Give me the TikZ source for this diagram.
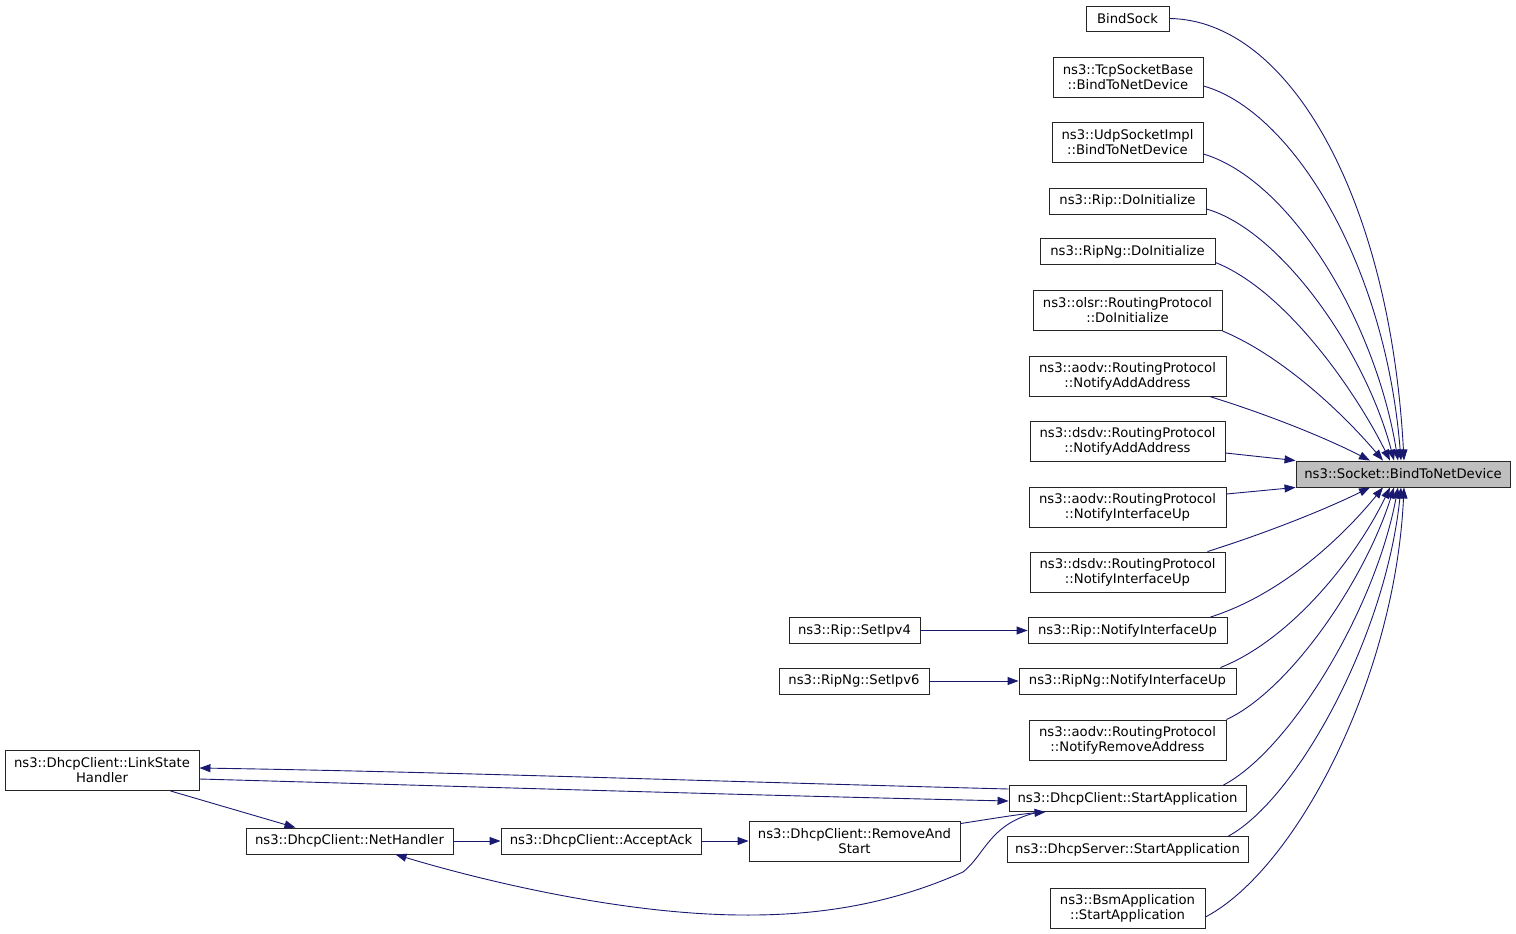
\documentclass[tikz,border=0pt]{standalone}
\usepackage{fontspec}
\setmainfont{DejaVu Sans}
\usetikzlibrary{arrows.meta}
\definecolor{edgeblue}{HTML}{191970}
\definecolor{mainfill}{HTML}{BFBFBF}
\tikzset{
  fn/.style={draw=black!85, line width=0.9pt, fill=white, inner sep=0pt, align=center,
    font=\fontsize{13.2}{15}\selectfont},
  fnmain/.style={fn, fill=mainfill},
  calls/.style={draw=edgeblue, line width=0.9pt, -{Triangle[length=11pt,width=8pt]}, color=edgeblue},
}
\begin{document}
\begin{tikzpicture}[x=1pt,y=-1pt]
\useasboundingbox (0,0) rectangle (1516,934);
% nodes
\node[fnmain, minimum width=214pt, minimum height=26pt] (main) at (1403,474) {ns3::Socket::BindToNetDevice};
\node[fn, minimum width=83pt, minimum height=25pt] (bindsock) at (1127.5,18.5) {BindSock};
\node[fn, minimum width=150pt, minimum height=40pt] (tcp) at (1128,77) {ns3::TcpSocketBase\\::BindToNetDevice};
\node[fn, minimum width=151pt, minimum height=40pt] (udp) at (1127.5,142) {ns3::UdpSocketImpl\\::BindToNetDevice};
\node[fn, minimum width=157pt, minimum height=26pt] (ripinit) at (1127.5,201) {ns3::Rip::DoInitialize};
\node[fn, minimum width=175pt, minimum height=26pt] (ripnginit) at (1127.5,251.5) {ns3::RipNg::DoInitialize};
\node[fn, minimum width=189pt, minimum height=40pt] (olsr) at (1127.5,310.5) {ns3::olsr::RoutingProtocol\\::DoInitialize};
\node[fn, minimum width=197pt, minimum height=40pt] (aodvadd) at (1127.5,376) {ns3::aodv::RoutingProtocol\\::NotifyAddAddress};
\node[fn, minimum width=195pt, minimum height=40pt] (dsdvadd) at (1127.5,441) {ns3::dsdv::RoutingProtocol\\::NotifyAddAddress};
\node[fn, minimum width=197pt, minimum height=40pt] (aodvup) at (1127.5,507) {ns3::aodv::RoutingProtocol\\::NotifyInterfaceUp};
\node[fn, minimum width=195pt, minimum height=40pt] (dsdvup) at (1127.5,572) {ns3::dsdv::RoutingProtocol\\::NotifyInterfaceUp};
\node[fn, minimum width=199pt, minimum height=26pt] (ripup) at (1127.5,630.5) {ns3::Rip::NotifyInterfaceUp};
\node[fn, minimum width=217pt, minimum height=26pt] (ripngup) at (1127.5,681) {ns3::RipNg::NotifyInterfaceUp};
\node[fn, minimum width=197pt, minimum height=40pt] (aodvrem) at (1127.5,740) {ns3::aodv::RoutingProtocol\\::NotifyRemoveAddress};
\node[fn, minimum width=237pt, minimum height=26pt] (dhcpstart) at (1127.5,798.5) {ns3::DhcpClient::StartApplication};
\node[fn, minimum width=241pt, minimum height=26pt] (dhcpserver) at (1127.5,849.5) {ns3::DhcpServer::StartApplication};
\node[fn, minimum width=155pt, minimum height=40pt] (bsm) at (1127.5,908) {ns3::BsmApplication\\::StartApplication};
\node[fn, minimum width=131pt, minimum height=26pt] (setipv4) at (854.5,630.5) {ns3::Rip::SetIpv4};
\node[fn, minimum width=150pt, minimum height=26pt] (setipv6) at (854,681) {ns3::RipNg::SetIpv6};
\node[fn, minimum width=194pt, minimum height=40pt] (linkstate) at (102,770.5) {ns3::DhcpClient::LinkState\\Handler};
\node[fn, minimum width=207pt, minimum height=26pt] (nethandler) at (349.5,841) {ns3::DhcpClient::NetHandler};
\node[fn, minimum width=200pt, minimum height=26pt] (acceptack) at (601,841) {ns3::DhcpClient::AcceptAck};
\node[fn, minimum width=211pt, minimum height=40pt] (removestart) at (854.5,841) {ns3::DhcpClient::RemoveAnd\\Start};
% edges into main (top side)
\draw[calls] (bindsock.east) .. controls (1290,20) and (1390,200) .. ([xshift=1pt]main.north);
\draw[calls] ([yshift=-9pt]tcp.east) .. controls (1290,110) and (1385,260) .. ([xshift=-2pt]main.north);
\draw[calls] ([yshift=-12pt]udp.east) .. controls (1290,180) and (1375,320) .. ([xshift=-5pt]main.north);
\draw[calls] ([yshift=-8pt]ripinit.east) .. controls (1280,230) and (1365,350) .. ([xshift=-9pt]main.north);
\draw[calls] ([yshift=-11pt]ripnginit.east) .. controls (1285,290) and (1355,390) .. ([xshift=-13pt]main.north);
\draw[calls] (olsr.south east) .. controls (1280,355) and (1340,410) .. ([xshift=-20pt]main.north);
\draw[calls] ([xshift=-17pt]aodvadd.south east) .. controls (1260,412) and (1320,435) .. ([xshift=-33pt]main.north);
\draw[calls] ([yshift=-12pt]dsdvadd.east) -- (main.north west);
% edges into main (bottom side)
\draw[calls] ([yshift=13pt]aodvup.east) -- (main.south west);
\draw[calls] ([xshift=-18pt]dsdvup.north east) .. controls (1260,535) and (1320,512) .. ([xshift=-33pt]main.south);
\draw[calls] ([xshift=-17pt]ripup.north east) .. controls (1280,595) and (1340,540) .. ([xshift=-20pt]main.south);
\draw[calls] ([xshift=-16pt]ripngup.north east) .. controls (1290,640) and (1355,560) .. ([xshift=-13pt]main.south);
\draw[calls] (aodvrem.north east) .. controls (1290,690) and (1365,580) .. ([xshift=-9pt]main.south);
\draw[calls] ([xshift=-23pt]dhcpstart.north east) .. controls (1290,750) and (1375,610) .. ([xshift=-5pt]main.south);
\draw[calls] ([xshift=-20pt]dhcpserver.north east) .. controls (1295,800) and (1385,640) .. ([xshift=-2pt]main.south);
\draw[calls] ([yshift=-9pt]bsm.east) .. controls (1295,870) and (1395,680) .. ([xshift=1pt]main.south);
% other edges
\draw[calls] (setipv4.east) -- (ripup.west);
\draw[calls] (setipv6.east) -- (ripngup.west);
\draw[calls] ([yshift=9.5pt]dhcpstart.west) .. controls (700,781) and (450,772) .. ([yshift=2.5pt]linkstate.east);
\draw[calls] ([yshift=-8.5pt]linkstate.east) .. controls (450,786) and (700,794) .. ([yshift=-2.5pt]dhcpstart.west);
\draw[calls] ([xshift=-29pt]linkstate.south east) -- ([xshift=-54pt]nethandler.north);
\draw[calls] (nethandler.east) -- (acceptack.west);
\draw[calls] (acceptack.east) -- (removestart.west);
\draw[calls] ([yshift=-3pt]removestart.north east) .. controls (990,819) and (1020,814) .. ([xshift=-82pt]dhcpstart.south);
\draw[calls] ([xshift=-88pt]dhcpstart.south) .. controls (990,822) and (985,855) .. (963,872)
  .. controls (900,900) and (830,916) .. (740,915)
  .. controls (620,914) and (480,880) .. ([xshift=46pt]nethandler.south);
\end{tikzpicture}
\end{document}
